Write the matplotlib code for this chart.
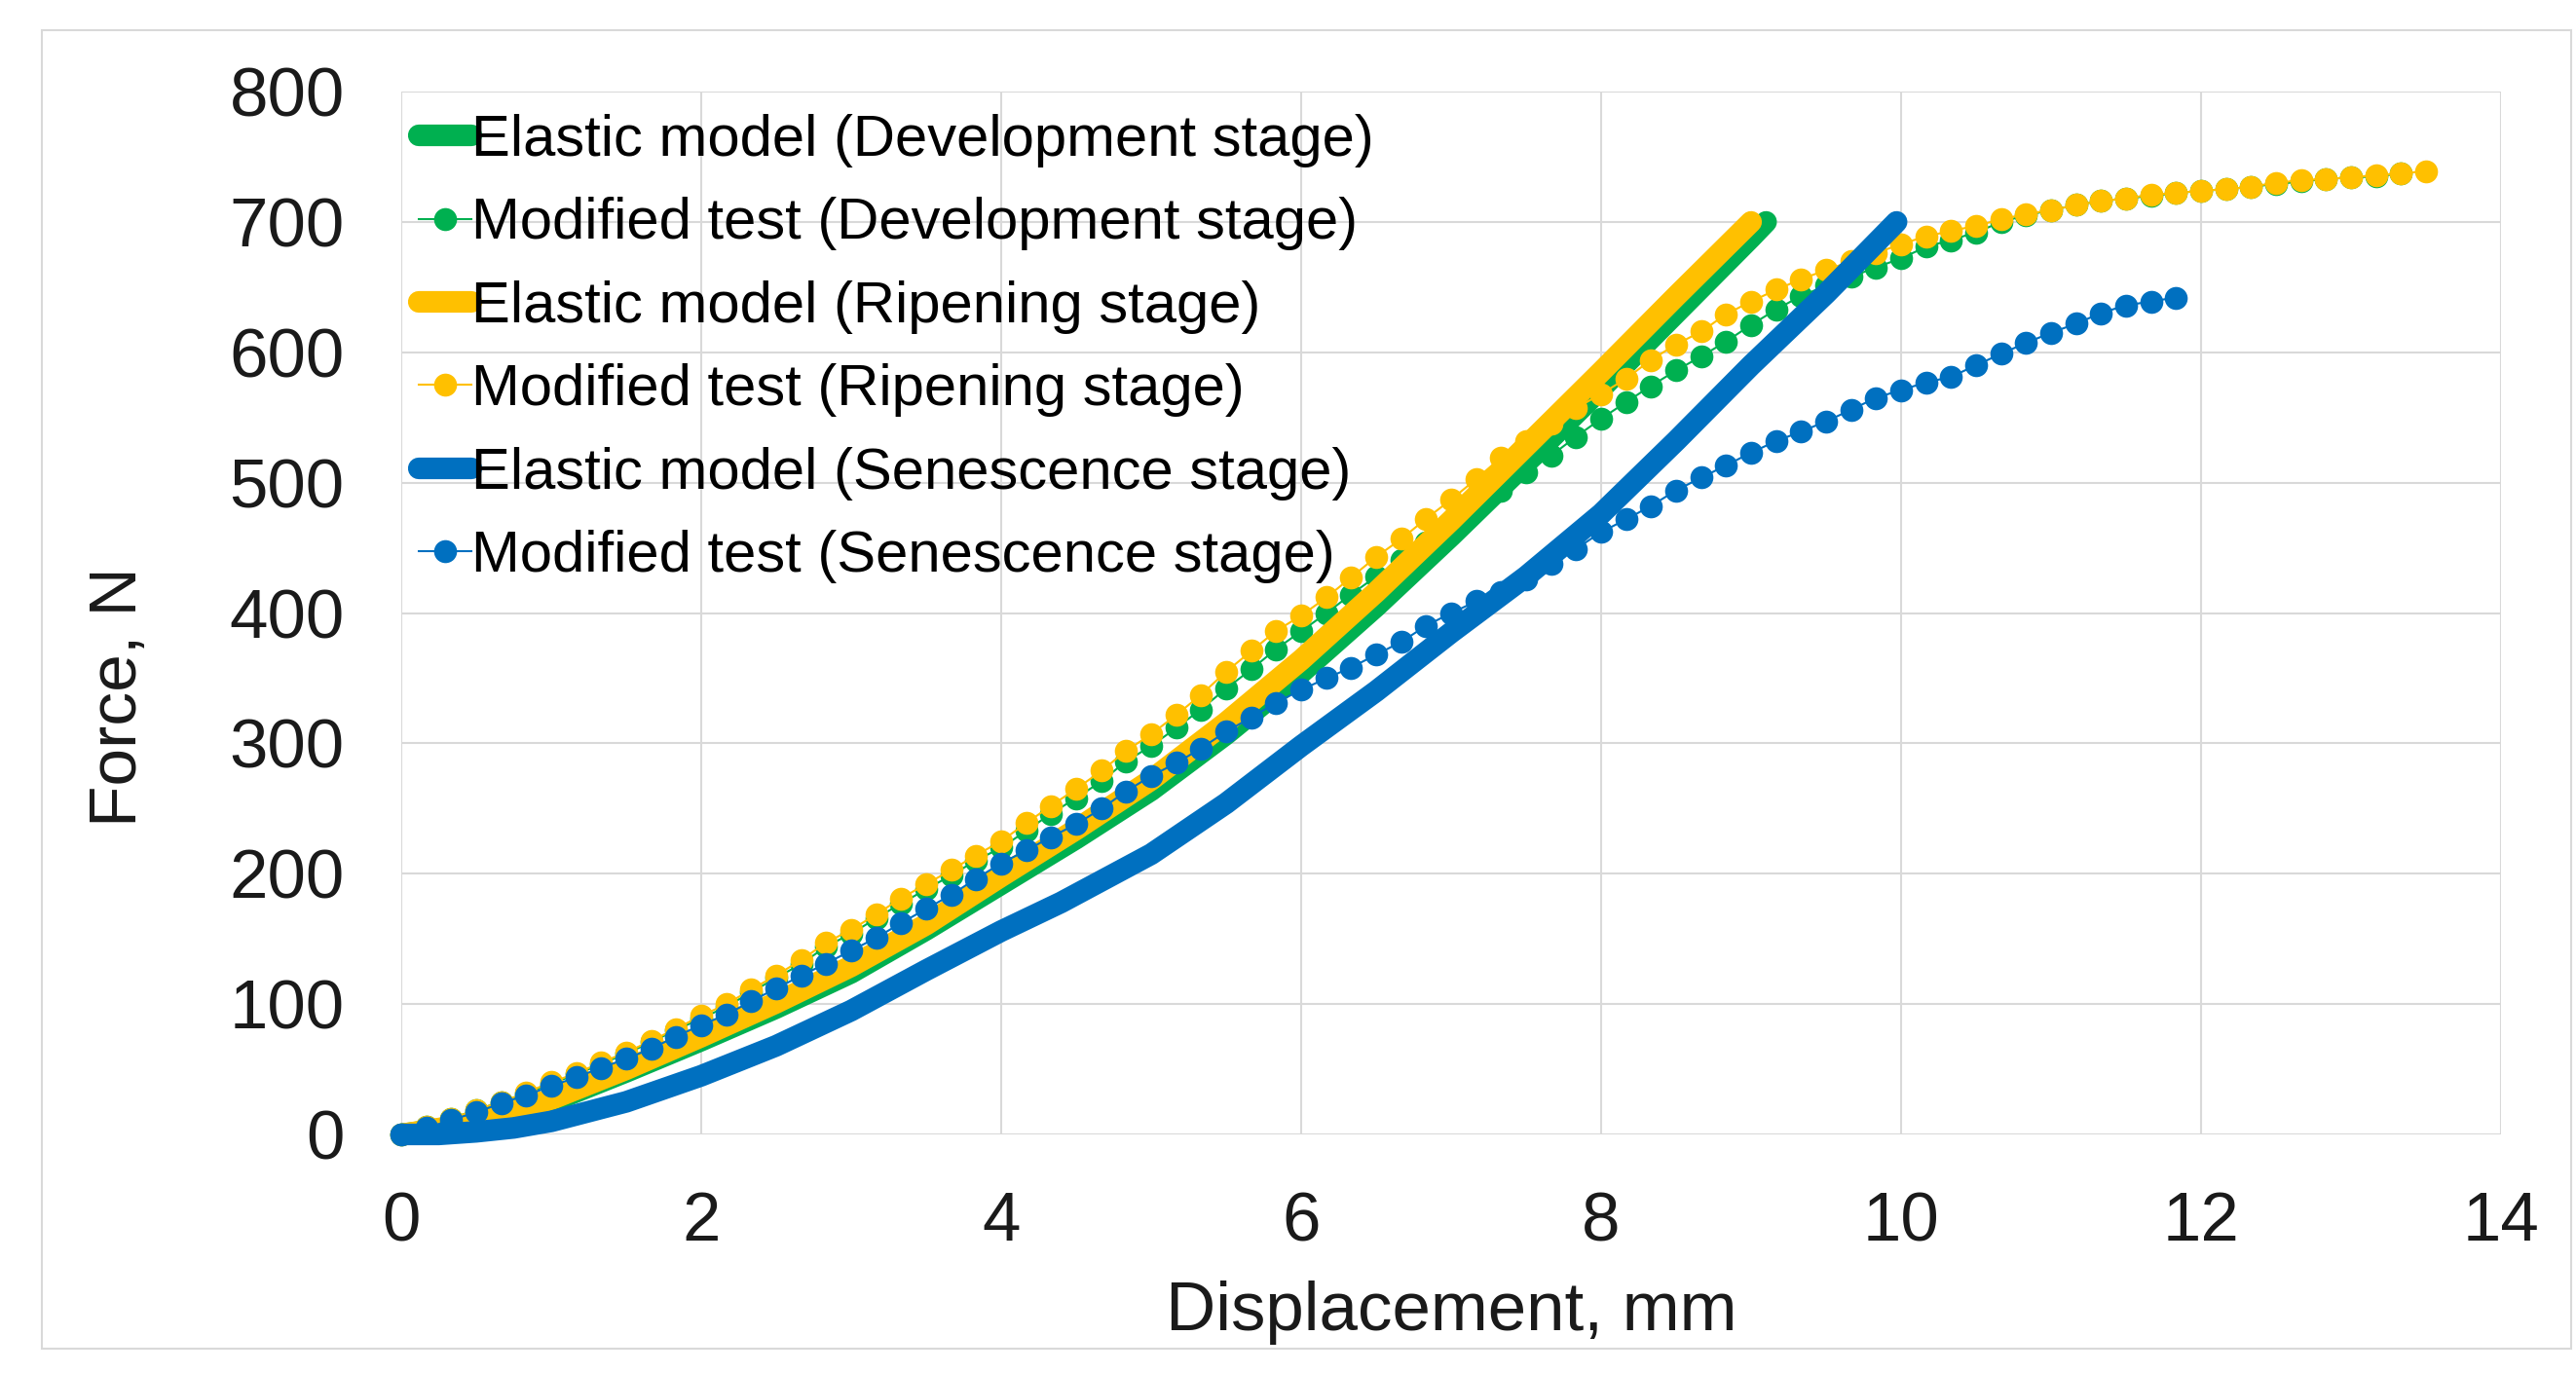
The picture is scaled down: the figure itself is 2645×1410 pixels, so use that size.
import matplotlib
matplotlib.use('Agg')
import matplotlib.pyplot as plt
from matplotlib.patches import Rectangle

plt.rcParams['font.family'] = ['Liberation Sans', 'DejaVu Sans']

# Displacement of the test points (mm), shared by the three test series
test_x = [0, 0.17, 0.33, 0.5, 0.67, 0.83, 1, 1.17, 1.33, 1.5, 1.67, 1.83,
          2, 2.17, 2.33, 2.5, 2.67, 2.83, 3, 3.17, 3.33, 3.5, 3.67, 3.83,
          4, 4.17, 4.33, 4.5, 4.67, 4.83, 5, 5.17, 5.33, 5.5, 5.67, 5.83,
          6, 6.17, 6.33, 6.5, 6.67, 6.83, 7, 7.17, 7.33, 7.5, 7.67, 7.83,
          8, 8.17, 8.33, 8.5, 8.67, 8.83, 9, 9.17, 9.33, 9.5, 9.67, 9.83,
          10, 10.17, 10.33, 10.5, 10.67, 10.83, 11, 11.17, 11.33, 11.5, 11.67, 11.83,
          12, 12.17, 12.33, 12.5, 12.67, 12.83, 13, 13.17, 13.33, 13.5]

# Modified test forces (N)
test_dev = [0, 6, 12, 19, 25, 31, 39, 46, 54, 62,
            71, 80, 89, 98, 109, 120, 131, 144, 154, 166,
            177, 188, 199, 210, 220, 233, 246, 258, 271, 286,
            298, 312, 326, 342, 357, 372, 386, 400, 414, 428,
            441, 454, 467, 480, 494, 508, 521, 535, 549, 562,
            574, 586, 597, 608, 621, 633, 643, 651, 658, 665,
            672, 681, 686, 692, 700, 705, 709, 713, 716, 718,
            720, 722, 724, 725, 727, 729, 731, 733, 734, 735,
            737]
test_rip = [0, 6, 12, 19, 25, 32, 40, 47, 55, 63,
            72, 81, 91, 100, 111, 122, 134, 147, 157, 169,
            181, 192, 203, 214, 225, 239, 252, 265, 279, 294,
            307, 322, 337, 355, 371, 386, 398, 412, 427, 443,
            457, 472, 487, 503, 519, 532, 545, 557, 568, 580,
            594, 606, 616, 629, 639, 648, 656, 663, 670, 676,
            683, 689, 693, 697, 702, 706, 709, 713, 716, 718,
            721, 722, 724, 725, 727, 730, 732, 733, 734, 736,
            737, 739]
test_sen = [0, 5, 11, 17, 24, 30, 37, 44, 51, 58,
            66, 75, 84, 92, 102, 112, 122, 131, 141, 151,
            162, 173, 184, 196, 208, 218, 228, 238, 250, 263,
            275, 285, 296, 309, 320, 331, 341, 350, 358, 368,
            378, 390, 400, 409, 416, 426, 438, 449, 462, 472,
            482, 494, 504, 513, 523, 532, 539, 547, 556, 565,
            571, 577, 581, 590, 599, 607, 615, 622, 630, 636,
            639, 642]

# Elastic model curves
el_dev_x = [0, 0.5, 1, 1.5, 2, 2.5, 3, 3.5, 4, 4.5, 5, 5.5, 6, 6.5, 7, 7.5, 8, 8.5, 9, 9.1]
el_dev_y = [0, 8, 25, 48, 72, 97, 124, 157, 192, 227, 264, 307, 354, 405, 459, 515, 572, 630, 688, 700]
el_rip_x = [0, 0.5, 1, 1.5, 2, 2.5, 3, 3.5, 4, 4.5, 5, 5.5, 6, 6.5, 7, 7.5, 8, 8.5, 9]
el_rip_y = [0, 9, 27, 50, 75, 101, 129, 161, 198, 234, 272, 316, 364, 416, 471, 528, 585, 643, 700]
el_sen_x = [0, 0.25, 0.5, 0.75, 1, 1.5, 2, 2.5, 3, 3.5, 4, 4.4, 5, 5.5, 6, 6.5, 7, 7.5, 8, 8.5, 9, 9.5, 9.97]
el_sen_y = [0, 0, 2, 5, 10, 25, 45, 68, 95, 126, 156, 178, 215, 254, 298, 340, 385, 428, 476, 532, 590, 645, 700]

green = '#00B050'
gold = '#FFC000'
blue = '#0070C0'

W, H = 2645, 1410
fig = plt.figure(figsize=(W / 100, H / 100), dpi=100)
ax = fig.add_axes([412 / W, 245 / H, 2156 / W, 1071 / H])

line_kw = dict(linewidth=16, solid_capstyle='round', solid_joinstyle='round', clip_on=False)
dot_kw = dict(marker='o', markersize=17, markeredgewidth=0, linewidth=1.5, clip_on=False)

ax.plot(el_dev_x, el_dev_y, color=green, label='Elastic model (Development stage)', **line_kw)
ax.plot(test_x[:len(test_dev)], test_dev, color=green, label='Modified test (Development stage)', **dot_kw)
ax.plot(el_rip_x, el_rip_y, color=gold, label='Elastic model (Ripening stage)', **line_kw)
ax.plot(test_x[:len(test_rip)], test_rip, color=gold, label='Modified test (Ripening stage)', **dot_kw)
ax.plot(el_sen_x, el_sen_y, color=blue, label='Elastic model (Senescence stage)', **line_kw)
ax.plot(test_x[:len(test_sen)], test_sen, color=blue, label='Modified test (Senescence stage)', **dot_kw)

ax.set_xlim(0, 14)
ax.set_ylim(0, 800)
ax.set_xticks(range(0, 15, 2))
ax.set_yticks(range(0, 801, 100))
ax.grid(True, color='#D9D9D9', linewidth=1.5)
ax.set_axisbelow(True)
for s in ax.spines.values():
    s.set_visible(False)
ax.tick_params(length=0, labelsize=51, labelcolor='#1a1a1a')
ax.tick_params(axis='y', pad=42)
ax.tick_params(axis='x', pad=42)

ax.set_xlabel('Displacement, mm', fontsize=51, color='#1a1a1a', va='center')
ax.set_ylabel('Force, N', fontsize=50, color='#1a1a1a', va='center')
ax.xaxis.set_label_coords(0.5, -0.171)
ax.yaxis.set_label_coords(-0.1345, 0.42)

ax.legend(loc='upper left', bbox_to_anchor=(430 / W, 1 - 117 / H), bbox_transform=fig.transFigure,
          frameon=False, fontsize=43, handlelength=0.9, handletextpad=0.0,
          labelspacing=0.51, borderpad=0, borderaxespad=0, numpoints=1)

# light frame around the whole chart
fig.patches.append(Rectangle((43 / W, 1 - 1385 / H), (2640 - 43) / W, (1385 - 31) / H,
                             transform=fig.transFigure, fill=False,
                             edgecolor='#D9D9D9', linewidth=1.5))

fig.savefig('out.png', dpi=100)
